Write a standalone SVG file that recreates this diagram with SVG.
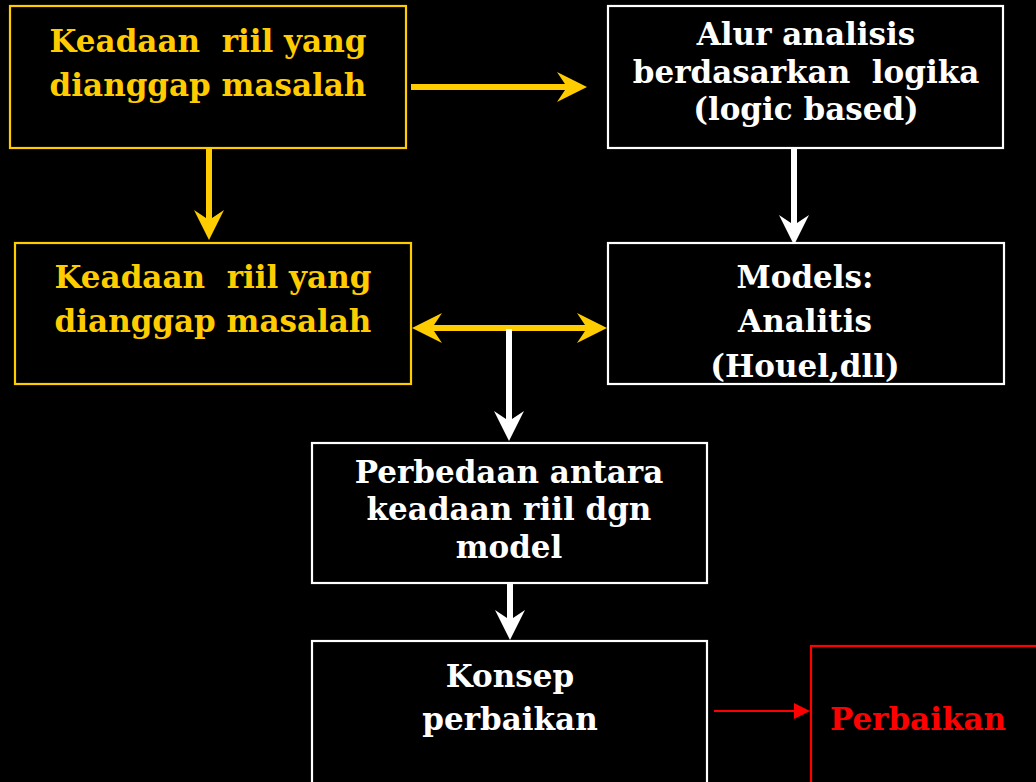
<svg xmlns="http://www.w3.org/2000/svg" width="1036" height="782" viewBox="0 0 1036 782">
  <style>
    .box { fill: #000; stroke-width: 2.2; }
    .y { stroke: #FFCC00; }
    .w { stroke: #FFFFFF; }
    .r { stroke: #FF0000; }
    text { font-family: "DejaVu Serif", "Liberation Serif", serif; font-weight: bold; font-size: 31px; text-anchor: middle; white-space: pre; }
    .ty { fill: #FFCC00; }
    .tw { fill: #FFFFFF; }
    .tr { fill: #FF0000; }
    .cy { stroke: #FFCC00; stroke-width: 6; fill: none; }
    .cw { stroke: #FFFFFF; stroke-width: 6; fill: none; }
    .cr { stroke: #FF0000; stroke-width: 2; fill: none; }
  </style>
  <defs>
    <marker id="ay" viewBox="-30 -15 30 30" markerUnits="userSpaceOnUse" markerWidth="30" markerHeight="30" refX="-18" refY="0" orient="auto-start-reverse">
      <path d="M0,0 L-30,-15 L-20,0 L-30,15 Z" fill="#FFCC00"/>
    </marker>
    <marker id="aw" viewBox="-30 -15 30 30" markerUnits="userSpaceOnUse" markerWidth="30" markerHeight="30" refX="-18" refY="0" orient="auto">
      <path d="M0,0 L-30,-15 L-20,0 L-30,15 Z" fill="#FFFFFF"/>
    </marker>
    <marker id="ar" viewBox="-16 -8 16 16" markerUnits="userSpaceOnUse" markerWidth="16" markerHeight="16" refX="-10" refY="0" orient="auto">
      <path d="M0,0 L-16,-8 L-16,8 Z" fill="#FF0000"/>
    </marker>
  </defs>
  <rect width="1036" height="782" fill="#000"/>

  <g id="connectors">
    <line class="cy" x1="411" y1="87" x2="569" y2="87" marker-end="url(#ay)"/>
    <line class="cy" x1="209" y1="149" x2="209" y2="222" marker-end="url(#ay)"/>
    <line class="cw" x1="794" y1="149" x2="794" y2="227" marker-end="url(#aw)"/>
    <line class="cy" x1="430" y1="328" x2="589" y2="328" marker-start="url(#ay)" marker-end="url(#ay)"/>
    <line class="cw" x1="509" y1="329" x2="509" y2="423" marker-end="url(#aw)"/>
    <line class="cw" x1="510" y1="584" x2="510" y2="622" marker-end="url(#aw)"/>
    <line class="cr" x1="714" y1="711" x2="800" y2="711" marker-end="url(#ar)"/>
  </g>

  <g id="n1">
    <rect class="box y" x="10" y="6" width="396" height="142"/>
    <text class="ty" x="208" y="52" xml:space="preserve">Keadaan  riil yang</text>
    <text class="ty" x="208" y="96">dianggap masalah</text>
  </g>
  <g id="n2">
    <rect class="box w" x="608" y="6" width="395" height="142"/>
    <text class="tw" x="806" y="45">Alur analisis</text>
    <text class="tw" x="806" y="83" xml:space="preserve">berdasarkan  logika</text>
    <text class="tw" x="806" y="120">(logic based)</text>
  </g>
  <g id="n3">
    <rect class="box y" x="15" y="243" width="396" height="141"/>
    <text class="ty" x="213" y="288" xml:space="preserve">Keadaan  riil yang</text>
    <text class="ty" x="213" y="332">dianggap masalah</text>
  </g>
  <g id="n4">
    <rect class="box w" x="608" y="243" width="396" height="141"/>
    <text class="tw" x="805" y="288">Models:</text>
    <text class="tw" x="805" y="332">Analitis</text>
    <text class="tw" x="805" y="377">(Houel,dll)</text>
  </g>
  <g id="n5">
    <rect class="box w" x="312" y="443" width="395" height="140"/>
    <text class="tw" x="509" y="483">Perbedaan antara</text>
    <text class="tw" x="509" y="520">keadaan riil dgn</text>
    <text class="tw" x="509" y="558">model</text>
  </g>
  <g id="n6">
    <rect class="box w" x="312" y="641" width="395" height="170"/>
    <text class="tw" x="510" y="687">Konsep</text>
    <text class="tw" x="510" y="730">perbaikan</text>
  </g>
  <g id="n7">
    <rect class="box r" x="811" y="646" width="260" height="170"/>
    <text class="tr" x="918" y="730">Perbaikan</text>
  </g>
</svg>
